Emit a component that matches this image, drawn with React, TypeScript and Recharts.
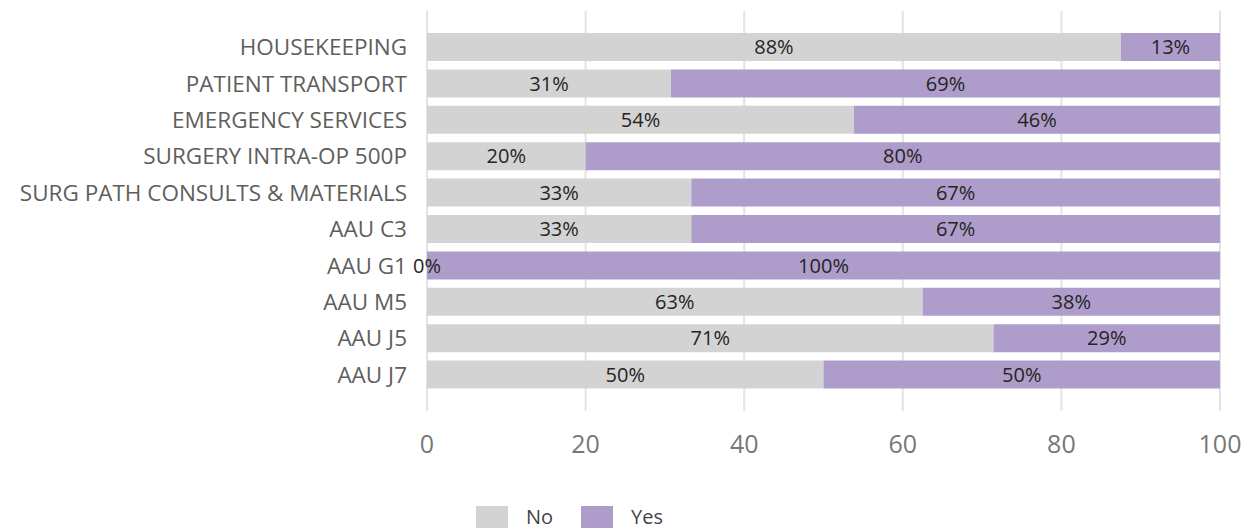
import React from 'react';
import { BarChart, Bar, XAxis, YAxis, CartesianGrid, LabelList } from 'recharts';

const categories = [
  'HOUSEKEEPING',
  'PATIENT TRANSPORT',
  'EMERGENCY SERVICES',
  'SURGERY INTRA-OP 500P',
  'SURG PATH CONSULTS & MATERIALS',
  'AAU C3',
  'AAU G1',
  'AAU M5',
  'AAU J5',
  'AAU J7',
];
const noValues = [87.5, 30.77, 53.85, 20, 33.33, 33.33, 0, 62.5, 71.43, 50];
const yesValues = [12.5, 69.23, 46.15, 80, 66.67, 66.67, 100, 37.5, 28.57, 50];
const xTicks = [0, 20, 40, 60, 80, 100];

const NO_COLOR = '#D3D3D3';
const YES_COLOR = '#AE9DCA';
const FONT = '"Open Sans", "Noto Sans", sans-serif';

const data = categories.map((name, i) => ({ name, no: noValues[i], yes: yesValues[i] }));

const pct = (v: any) => `${Math.round(Number(v))}%`;

// a zero-width "No" segment has no rect to hang a label on, so draw it at the start of the "Yes" bar
const zeroNoLabel = (props: any) => {
  const { x, y, height, value } = props;
  if (Number(value) !== 0) return null;
  return (
    <text
      x={Number(x)}
      y={Number(y) + Number(height) / 2}
      textAnchor="middle"
      dominantBaseline="central"
      fill="#252423"
      fontSize={20}
      fontFamily={FONT}
    >
      {pct(value)}
    </text>
  );
};

export default function App() {
  return (
    <div style={{ position: 'relative', width: 1241, height: 521, fontFamily: FONT }}>
      <BarChart
        width={1241}
        height={470}
        data={data}
        layout="vertical"
        margin={{ top: 3, right: 29, bottom: 7, left: 0 }}
      >
        <CartesianGrid horizontal={false} stroke="#E3E3E3" strokeWidth={2} />
        <XAxis
          type="number"
          domain={[0, 100]}
          ticks={xTicks}
          height={60}
          tickSize={0}
          tickMargin={24}
          axisLine={false}
          tick={{ fill: '#777777', fontSize: 25, fontFamily: FONT }}
        />
        <YAxis
          type="category"
          dataKey="name"
          width={419}
          padding={{ top: 18, bottom: 18 }}
          tickSize={0}
          tickMargin={20}
          axisLine={false}
          interval={0}
          tick={{ fill: '#605E5C', fontSize: 22.5, fontFamily: FONT }}
        />
        <Bar dataKey="no" stackId="a" fill={NO_COLOR} barSize={28} isAnimationActive={false}>
          <LabelList dataKey="no" position="center" formatter={pct} fill="#252423" fontSize={20} fontFamily={FONT} />
        </Bar>
        <Bar dataKey="yes" stackId="a" fill={YES_COLOR} barSize={28} isAnimationActive={false}>
          <LabelList dataKey="yes" position="center" formatter={pct} fill="#252423" fontSize={20} fontFamily={FONT} />
          <LabelList dataKey="no" content={zeroNoLabel} />
        </Bar>
      </BarChart>
      <div
        style={{
          position: 'absolute',
          left: 468,
          top: 498,
          height: 22,
          display: 'flex',
          alignItems: 'center',
          fontSize: 20,
          lineHeight: '22px',
          color: '#444444',
        }}
      >
        <span style={{ width: 32, height: 22, background: NO_COLOR, display: 'inline-block' }} />
        <span style={{ marginLeft: 18, marginRight: 28 }}>No</span>
        <span style={{ width: 32, height: 22, background: YES_COLOR, display: 'inline-block' }} />
        <span style={{ marginLeft: 18 }}>Yes</span>
      </div>
    </div>
  );
}
